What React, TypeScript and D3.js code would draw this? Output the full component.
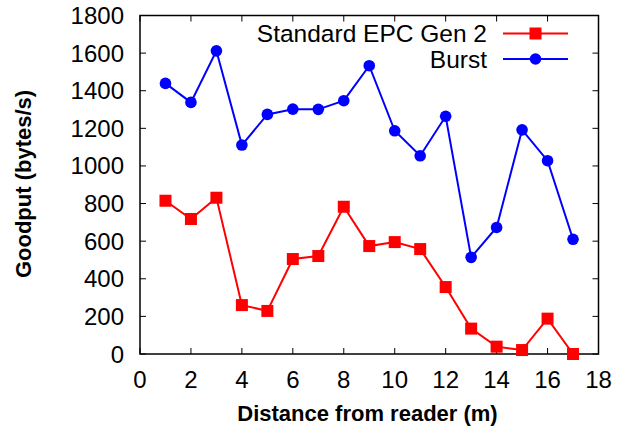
import React from "react";
import * as d3 from "d3";

const distances = [1, 2, 3, 4, 5, 6, 7, 8, 9, 10, 11, 12, 13, 14, 15, 16, 17];
const standardEpc = [815, 718, 831, 260, 229, 505, 521, 783, 574, 595, 558, 356, 135, 39, 21, 188, 0];
const burst = [1439, 1338, 1612, 1111, 1274, 1302, 1301, 1347, 1533, 1187, 1054, 1264, 514, 673, 1192, 1028, 610];
const xTicks = [0, 2, 4, 6, 8, 10, 12, 14, 16, 18];
const yTicks = [0, 200, 400, 600, 800, 1000, 1200, 1400, 1600, 1800];
const seriesNames = ["Standard EPC Gen 2", "Burst"];
const xLabel = "Distance from reader (m)";
const yLabel = "Goodput (bytes/s)";

const W = 624, H = 430;
const L = 140, R = 598.5, T = 15.5, B = 354;
const FONT = "'Liberation Sans', Arial, Helvetica, sans-serif";

export default function App() {
  const x = d3.scaleLinear().domain([0, 18]).range([L, R]);
  const y = d3.scaleLinear().domain([0, 1800]).range([B, T]);
  const line = d3.line<number>().x((_, i) => x(distances[i])).y((d) => y(d));
  const tick = 6;

  return (
    <svg width={W} height={H} style={{ position: "absolute", left: 0, top: 0, background: "#fff" }}>
      {/* ticks */}
      {xTicks.map((t) => (
        <g key={"xt" + t}>
          <line x1={x(t)} x2={x(t)} y1={B} y2={B - tick} stroke="#000" strokeWidth={1} />
          <line x1={x(t)} x2={x(t)} y1={T} y2={T + tick} stroke="#000" strokeWidth={1} />
          <text x={x(t)} y={388} textAnchor="middle" fontFamily={FONT} fontSize={24} fill="#000">{t}</text>
        </g>
      ))}
      {yTicks.map((t) => (
        <g key={"yt" + t}>
          <line x1={L} x2={L + tick} y1={y(t)} y2={y(t)} stroke="#000" strokeWidth={1} />
          <line x1={R} x2={R - tick} y1={y(t)} y2={y(t)} stroke="#000" strokeWidth={1} />
          <text x={124} y={y(t) + 8.5} textAnchor="end" fontFamily={FONT} fontSize={24} fill="#000">{t}</text>
        </g>
      ))}
      {/* frame */}
      <rect x={L} y={T} width={R - L} height={B - T} fill="none" stroke="#000" strokeWidth={1.5} />

      {/* series */}
      <path d={line(standardEpc) || ""} fill="none" stroke="#ff0000" strokeWidth={2} />
      {standardEpc.map((v, i) => (
        <rect key={"s" + i} x={x(distances[i]) - 6} y={y(v) - 6} width={12} height={12} fill="#ff0000" />
      ))}
      <path d={line(burst) || ""} fill="none" stroke="#0000ff" strokeWidth={2} />
      {burst.map((v, i) => (
        <circle key={"b" + i} cx={x(distances[i])} cy={y(v)} r={5.8} fill="#0000ff" />
      ))}

      {/* legend */}
      <g>
        <text x={487} y={33.5 + 8.5} textAnchor="end" fontFamily={FONT} fontSize={24.5} fill="#000">{seriesNames[0]}</text>
        <line x1={503} x2={568} y1={33.5} y2={33.5} stroke="#ff0000" strokeWidth={2} />
        <rect x={535.5 - 6} y={33.5 - 6} width={12} height={12} fill="#ff0000" />
        <text x={487} y={59 + 8.5} textAnchor="end" fontFamily={FONT} fontSize={24.5} fill="#000">{seriesNames[1]}</text>
        <line x1={503} x2={568} y1={59} y2={59} stroke="#0000ff" strokeWidth={2} />
        <circle cx={535.5} cy={59} r={5.8} fill="#0000ff" />
      </g>

      {/* axis labels */}
      <text x={367.5} y={421} textAnchor="middle" fontFamily={FONT} fontWeight="bold" fontSize={22} fill="#000">{xLabel}</text>
      <text transform={`translate(31,184) rotate(-90)`} textAnchor="middle" fontFamily={FONT} fontWeight="bold" fontSize={22} fill="#000">{yLabel}</text>
    </svg>
  );
}
